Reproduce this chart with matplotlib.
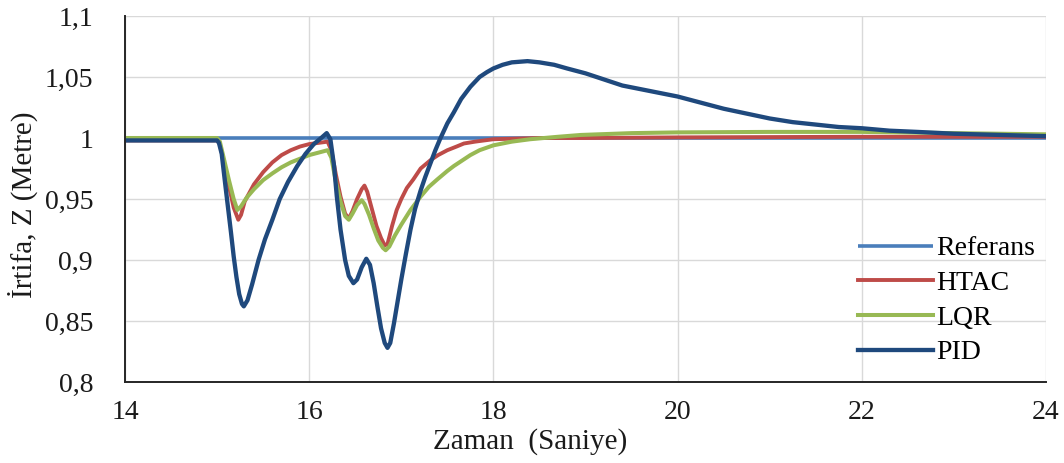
import matplotlib
matplotlib.use("Agg")
import matplotlib.pyplot as plt

# --- data -------------------------------------------------------------
ref_t = [14.0, 24.0]
ref_z = [1.0, 1.0]

htac_t = [14.0, 15.0, 15.03, 15.08, 15.13, 15.18, 15.23, 15.26, 15.30, 15.40,
          15.50, 15.60, 15.70, 15.80, 15.90, 16.00, 16.10, 16.20, 16.24, 16.29,
          16.34, 16.39, 16.43, 16.47, 16.52, 16.57, 16.60, 16.63, 16.68, 16.73,
          16.78, 16.82, 16.85, 16.90, 16.95, 17.00, 17.06, 17.13, 17.21, 17.32,
          17.40, 17.50, 17.60, 17.68, 17.80, 17.90, 18.00, 18.50, 19.00, 20.00,
          22.00, 24.00]
htac_z = [0.998, 0.998, 0.995, 0.978, 0.960, 0.943, 0.933, 0.937, 0.948, 0.962,
          0.972, 0.980, 0.986, 0.990, 0.993, 0.995, 0.996, 0.997, 0.990, 0.970,
          0.952, 0.938, 0.934, 0.940, 0.950, 0.958, 0.961, 0.956, 0.942, 0.928,
          0.918, 0.912, 0.913, 0.928, 0.941, 0.950, 0.959, 0.966, 0.975, 0.982,
          0.986, 0.990, 0.993, 0.9955, 0.997, 0.998, 0.999, 1.000, 1.000, 1.0005,
          1.001, 1.001]

lqr_t = [14.0, 15.0, 15.03, 15.08, 15.13, 15.18, 15.22, 15.26, 15.32, 15.40,
         15.50, 15.60, 15.70, 15.80, 15.90, 16.00, 16.10, 16.20, 16.24, 16.29,
         16.34, 16.39, 16.43, 16.47, 16.52, 16.57, 16.60, 16.65, 16.70, 16.75,
         16.80, 16.83, 16.87, 16.93, 17.00, 17.10, 17.21, 17.30, 17.39, 17.50,
         17.57, 17.65, 17.75, 17.85, 18.00, 18.20, 18.40, 18.70, 18.95, 19.50,
         20.00, 21.00, 22.00, 23.00, 24.00]
lqr_z = [1.000, 1.000, 0.997, 0.981, 0.965, 0.950, 0.941, 0.944, 0.951, 0.958,
         0.9655, 0.971, 0.976, 0.980, 0.983, 0.986, 0.988, 0.990, 0.984, 0.964,
         0.948, 0.936, 0.933, 0.938, 0.945, 0.949, 0.946, 0.937, 0.926, 0.916,
         0.910, 0.908, 0.911, 0.920, 0.929, 0.941, 0.952, 0.960, 0.966, 0.973,
         0.977, 0.981, 0.986, 0.990, 0.994, 0.997, 0.999, 1.001, 1.0025, 1.004,
         1.0046, 1.005, 1.005, 1.004, 1.003]

pid_t = [14.0, 15.0, 15.02, 15.05, 15.09, 15.12, 15.15, 15.18, 15.21, 15.24,
         15.27, 15.29, 15.33, 15.38, 15.45, 15.52, 15.60, 15.68, 15.77, 15.87,
         15.96, 16.05, 16.13, 16.19, 16.23, 16.27, 16.30, 16.34, 16.39, 16.43,
         16.48, 16.52, 16.57, 16.62, 16.66, 16.70, 16.74, 16.78, 16.82, 16.85,
         16.88, 16.92, 16.96, 17.00, 17.05, 17.10, 17.15, 17.21, 17.26, 17.32,
         17.37, 17.42, 17.50, 17.57, 17.65, 17.75, 17.85, 17.93, 18.00, 18.10,
         18.20, 18.37, 18.50, 18.66, 18.80, 19.00, 19.20, 19.40, 19.60, 19.80,
         20.00, 20.25, 20.50, 20.75, 21.00, 21.25, 21.50, 21.75, 22.00, 22.30,
         22.60, 23.00, 23.50, 24.00]
pid_z = [0.998, 0.998, 0.996, 0.987, 0.961, 0.942, 0.923, 0.903, 0.886, 0.872,
         0.864, 0.862, 0.867, 0.880, 0.900, 0.917, 0.933, 0.950, 0.964, 0.977,
         0.987, 0.995, 1.000, 1.004, 0.999, 0.977, 0.952, 0.925, 0.900, 0.887,
         0.881, 0.884, 0.894, 0.901, 0.896, 0.881, 0.862, 0.844, 0.832, 0.828,
         0.832, 0.848, 0.866, 0.884, 0.905, 0.925, 0.942, 0.957, 0.968, 0.980,
         0.990, 0.999, 1.012, 1.021, 1.032, 1.042, 1.050, 1.054, 1.057, 1.060,
         1.062, 1.063, 1.062, 1.060, 1.057, 1.053, 1.048, 1.043, 1.040, 1.037,
         1.034, 1.029, 1.024, 1.020, 1.016, 1.013, 1.011, 1.009, 1.008, 1.006,
         1.005, 1.0035, 1.0025, 1.0015]

x_ticks = [14, 16, 18, 20, 22, 24]
y_ticks = [0.8, 0.85, 0.9, 0.95, 1.0, 1.05, 1.1]
y_tick_labels = ["0,8", "0,85", "0,9", "0,95", "1", "1,05", "1,1"]

# --- figure -----------------------------------------------------------
plt.rcParams["font.family"] = ["Liberation Serif", "DejaVu Serif"]

fig = plt.figure(figsize=(10.64, 4.63), dpi=100)
ax = fig.add_axes([125 / 1064, 1 - 382 / 463, 921 / 1064, 366 / 463])

ax.plot(ref_t, ref_z, color="#4a7ebb", lw=2.6, label="Referans", solid_capstyle="butt")
ax.plot(htac_t, htac_z, color="#be4b48", lw=2.8, label="HTAC", solid_joinstyle="round")
ax.plot(lqr_t, lqr_z, color="#98b954", lw=2.9, label="LQR", solid_joinstyle="round")
ax.plot(pid_t, pid_z, color="#1f497d", lw=3.1, label="PID", solid_joinstyle="round")

ax.set_xlim(14, 24)
ax.set_ylim(0.8, 1.1)
ax.set_xticks(x_ticks)
ax.set_xticklabels([str(v) for v in x_ticks])
ax.set_yticks(y_ticks)
ax.set_yticklabels(y_tick_labels)

ax.grid(True, color="#d9d9d9", lw=1.0)
ax.set_axisbelow(True)
for side in ("top", "right"):
    ax.spines[side].set_visible(False)
for side in ("left", "bottom"):
    ax.spines[side].set_color("#262626")
    ax.spines[side].set_linewidth(1.4)

ax.tick_params(axis="both", length=0, labelsize=20, colors="#1a1a1a")
ax.tick_params(axis="y", pad=23)
ax.tick_params(axis="x", pad=13)

ax.set_xlabel("Zaman  (Saniye)", fontsize=21, color="#1a1a1a")
ax.xaxis.set_label_coords(0.44, -0.125)
ax.set_ylabel("İrtifa, Z (Metre)", fontsize=21, color="#1a1a1a")
ax.yaxis.set_label_coords(-0.095, 0.485)

leg = ax.legend(loc="upper left", bbox_to_anchor=(858 / 1064, 1 - 236 / 463),
                bbox_transform=fig.transFigure, frameon=False, fontsize=20,
                handlelength=2.7, handletextpad=0.1, labelspacing=0.33,
                borderpad=0, borderaxespad=0)

fig.savefig("out.png", dpi=100)
